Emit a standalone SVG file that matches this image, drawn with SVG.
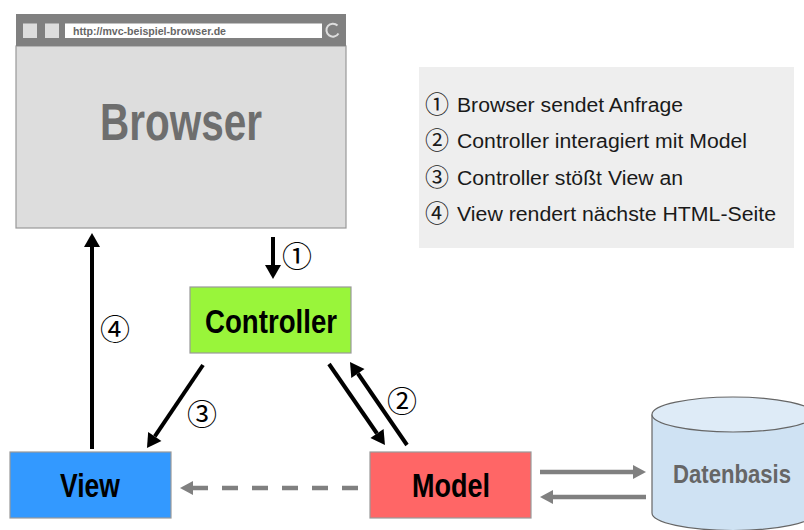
<svg xmlns="http://www.w3.org/2000/svg" width="804" height="530" viewBox="0 0 804 530">
  <style>
    .box { stroke: #999999; stroke-width: 1.2; }
    .label { font-family: "Liberation Sans", Arial, sans-serif; font-weight: bold; font-size: 34px; fill: #000000; text-anchor: middle; }
    .num { font-family: "Noto Sans CJK JP", "DejaVu Sans", sans-serif; font-size: 30px; fill: #000000; text-anchor: middle; }
    .legend { font-family: "Liberation Sans", Arial, sans-serif; font-size: 20px; fill: #1a1a1a; }
    .legnum { font-family: "Noto Sans CJK JP", "DejaVu Sans", sans-serif; font-size: 24px; fill: #1a1a1a; text-anchor: middle; }
    .flow { fill: none; stroke: #000000; stroke-width: 4; marker-end: url(#headBlack); }
    .data { fill: none; stroke: #808080; stroke-width: 4.5; marker-end: url(#headGray); }
  </style>
  <defs>
    <marker id="headBlack" markerUnits="userSpaceOnUse" markerWidth="14" markerHeight="16" refX="0" refY="8" orient="auto" overflow="visible">
      <path d="M0,0 L14,8 L0,16 Z" fill="#000000"/>
    </marker>
    <marker id="headGray" markerUnits="userSpaceOnUse" markerWidth="13" markerHeight="14" refX="0" refY="7" orient="auto" overflow="visible">
      <path d="M0,0 L13,7 L0,14 Z" fill="#808080"/>
    </marker>
  </defs>

  <!-- Browser window -->
  <g id="browser">
    <rect x="16" y="46" width="330" height="182" fill="#dddddd" stroke="#999999" stroke-width="1.2"/>
    <rect x="16" y="14" width="330" height="32" fill="#808080"/>
    <rect x="23" y="23.5" width="14" height="14.5" fill="#dddddd"/>
    <rect x="45" y="23.5" width="14" height="14.5" fill="#dddddd"/>
    <rect x="65" y="23.5" width="257" height="14.5" fill="#ffffff"/>
    <text x="73" y="34.5" font-family="Liberation Sans, Arial, sans-serif" font-weight="bold" font-size="10" fill="#666666" textLength="153" lengthAdjust="spacingAndGlyphs">http://mvc-beispiel-browser.de</text>
    <path d="M337.5,25.5 A6.5,6.5 0 1 0 338.5,33.5" fill="none" stroke="#dddddd" stroke-width="2"/>
    <text x="181" y="140" font-family="Liberation Sans, Arial, sans-serif" font-weight="bold" font-size="51" fill="#6e6e6e" text-anchor="middle" textLength="162" lengthAdjust="spacingAndGlyphs">Browser</text>
  </g>

  <!-- Legend -->
  <g id="legend">
    <rect x="419" y="67" width="375" height="181" fill="#eeeeee"/>
    <text class="legnum" x="437" y="113">①</text>
    <text class="legend" x="457" y="112" textLength="226" lengthAdjust="spacingAndGlyphs">Browser sendet Anfrage</text>
    <text class="legnum" x="437" y="149">②</text>
    <text class="legend" x="457" y="148" textLength="290" lengthAdjust="spacingAndGlyphs">Controller interagiert mit Model</text>
    <text class="legnum" x="437" y="186">③</text>
    <text class="legend" x="457" y="185" textLength="226" lengthAdjust="spacingAndGlyphs">Controller stößt View an</text>
    <text class="legnum" x="437" y="222">④</text>
    <text class="legend" x="457" y="221" textLength="319" lengthAdjust="spacingAndGlyphs">View rendert nächste HTML-Seite</text>
  </g>

  <!-- Controller -->
  <g id="controller">
    <rect class="box" x="190" y="287" width="161" height="66" fill="#99f53a"/>
    <text class="label" x="271" y="333" textLength="132" lengthAdjust="spacingAndGlyphs">Controller</text>
  </g>

  <!-- View -->
  <g id="view">
    <rect class="box" x="10" y="452" width="161" height="66" fill="#3399ff"/>
    <text class="label" x="90" y="497" textLength="60" lengthAdjust="spacingAndGlyphs">View</text>
  </g>

  <!-- Model -->
  <g id="model">
    <rect class="box" x="370" y="452" width="161" height="66" fill="#ff6666"/>
    <text class="label" x="451" y="497" textLength="78" lengthAdjust="spacingAndGlyphs">Model</text>
  </g>

  <!-- Datenbasis -->
  <g id="datenbasis">
    <path d="M652,414.5 L652,513 A81,17.5 0 0 0 814,513 L814,414.5" fill="#cfe2f3" stroke="#666666" stroke-width="1.2"/>
    <ellipse cx="733" cy="414.5" rx="81" ry="17.5" fill="#deebf7" stroke="#666666" stroke-width="1.2"/>
    <text x="732" y="483" font-family="Liberation Sans, Arial, sans-serif" font-weight="bold" font-size="25" fill="#666666" text-anchor="middle" textLength="118" lengthAdjust="spacingAndGlyphs">Datenbasis</text>
  </g>

  <!-- Connectors -->
  <g id="connectors">
    <path class="flow" d="M273,237 L273,265"/>
    <path class="flow" d="M92,449 L92,247"/>
    <path class="flow" d="M203,365 L154.8,436.4"/>
    <path class="flow" d="M329,364 L377,433.5"/>
    <path class="flow" d="M407,445 L357.9,373.5"/>
    <path class="data" d="M358,488 L193,488" stroke-dasharray="16 14"/>
    <path class="data" d="M540,472 L633,472"/>
    <path class="data" d="M646,497 L553,497"/>
  </g>

  <!-- Step numbers -->
  <g id="steps">
    <text class="num" x="297" y="267">①</text>
    <text class="num" x="402" y="412">②</text>
    <text class="num" x="202" y="425">③</text>
    <text class="num" x="115" y="340">④</text>
  </g>
</svg>
